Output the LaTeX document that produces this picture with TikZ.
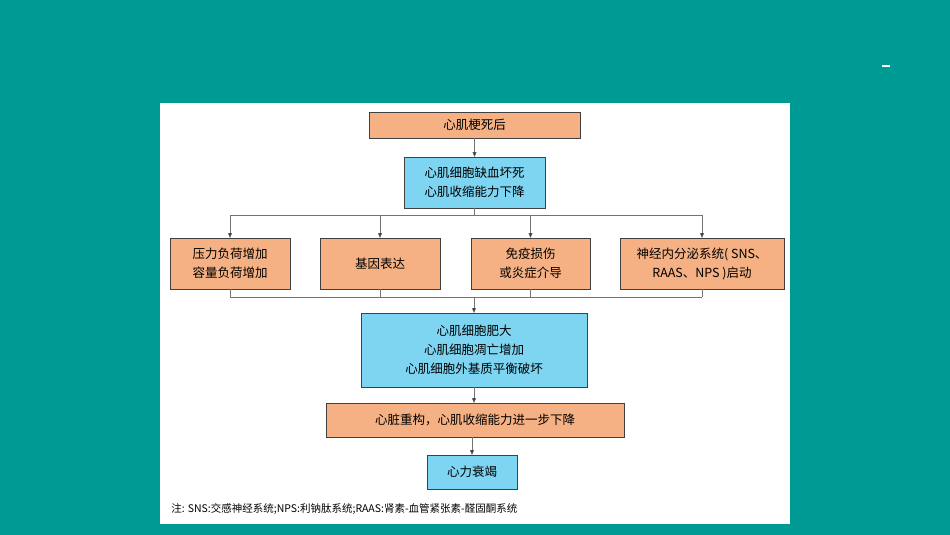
\documentclass[tikz,border=0pt]{standalone}
\usepackage{fontspec}
\setmainfont{Noto Sans CJK SC}
\usetikzlibrary{positioning,arrows.meta,calc}
\definecolor{teal1}{HTML}{009A95}
\definecolor{boxor}{HTML}{F5B183}
\definecolor{boxbl}{HTML}{7DD5F2}
\begin{document}
\begin{tikzpicture}[x=1pt,y=-1pt,every node/.style={outer sep=0pt},
		box/.style={draw=black!75,thin,align=center,inner sep=0pt,font=\fontsize{12.5}{19}\selectfont},
		obox/.style={box,fill=boxor},
		bbox/.style={box,fill=boxbl},
		link/.style={draw=black!55,thin},
		arr/.style={link,-{Triangle[length=5pt,width=4pt,fill=black!80]}}
		]
		% background and panel
		\fill[teal1] (0,0) rectangle (950,535);
		\fill[white] (160,103) rectangle (790,524);
		\draw[white,line width=2pt] (882,66) -- (890,66);
		
		\node[obox,minimum width=211,minimum height=26] (mi) at (474.5,125) {心肌梗死后};
		\node[bbox,minimum width=141,minimum height=51] (isch) at (474.5,182.5) {心肌细胞缺血坏死\\心肌收缩能力下降};
		\node[obox,minimum width=120,minimum height=51] (load) at (230,263.5) {压力负荷增加\\容量负荷增加};
		\node[obox,minimum width=120,minimum height=51] (gene) at (380,263.5) {基因表达};
		\node[obox,minimum width=119,minimum height=51] (immu) at (530.5,263.5) {免疫损伤\\或炎症介导};
		\node[obox,minimum width=164,minimum height=51] (neur) at (702,263.5) {神经内分泌系统( SNS、\\ RAAS、NPS )启动};
		\node[bbox,minimum width=226,minimum height=74] (hyp) at (474,350) {心肌细胞肥大\\心肌细胞凋亡增加\\心肌细胞外基质平衡破坏};
		\node[obox,minimum width=298,minimum height=34] (remo) at (475,420) {心脏重构，心肌收缩能力进一步下降};
		\node[bbox,minimum width=90,minimum height=34] (hf) at (472,472) {心力衰竭};
		\node[anchor=west,font=\fontsize{10.5}{12}\selectfont] (note) at (168,509) {注: SNS:交感神经系统;NPS:利钠肽系统;RAAS:肾素-血管紧张素-醛固酮系统};
		
		\coordinate (split) at (474.5,215);
		\coordinate (join) at (474,297);
		\draw[arr] (mi) -- (isch);
		\draw[link] (isch) -- (split);
		\draw[link] (load.north |- split) -- (neur.north |- split);
		\foreach \n in {load,gene,immu,neur}{
			\draw[arr] (\n.north |- split) -- (\n.north);
			\draw[link] (\n.south) -- (\n.south |- join);
		}
		\draw[link] (load.south |- join) -- (neur.south |- join);
		\draw[arr] (join) -- (hyp.north);
		\draw[arr] (hyp) -- (hyp.south |- remo.north);
		\draw[arr] (remo.south -| hf.north) -- (hf);
	\end{tikzpicture}
\end{document}
